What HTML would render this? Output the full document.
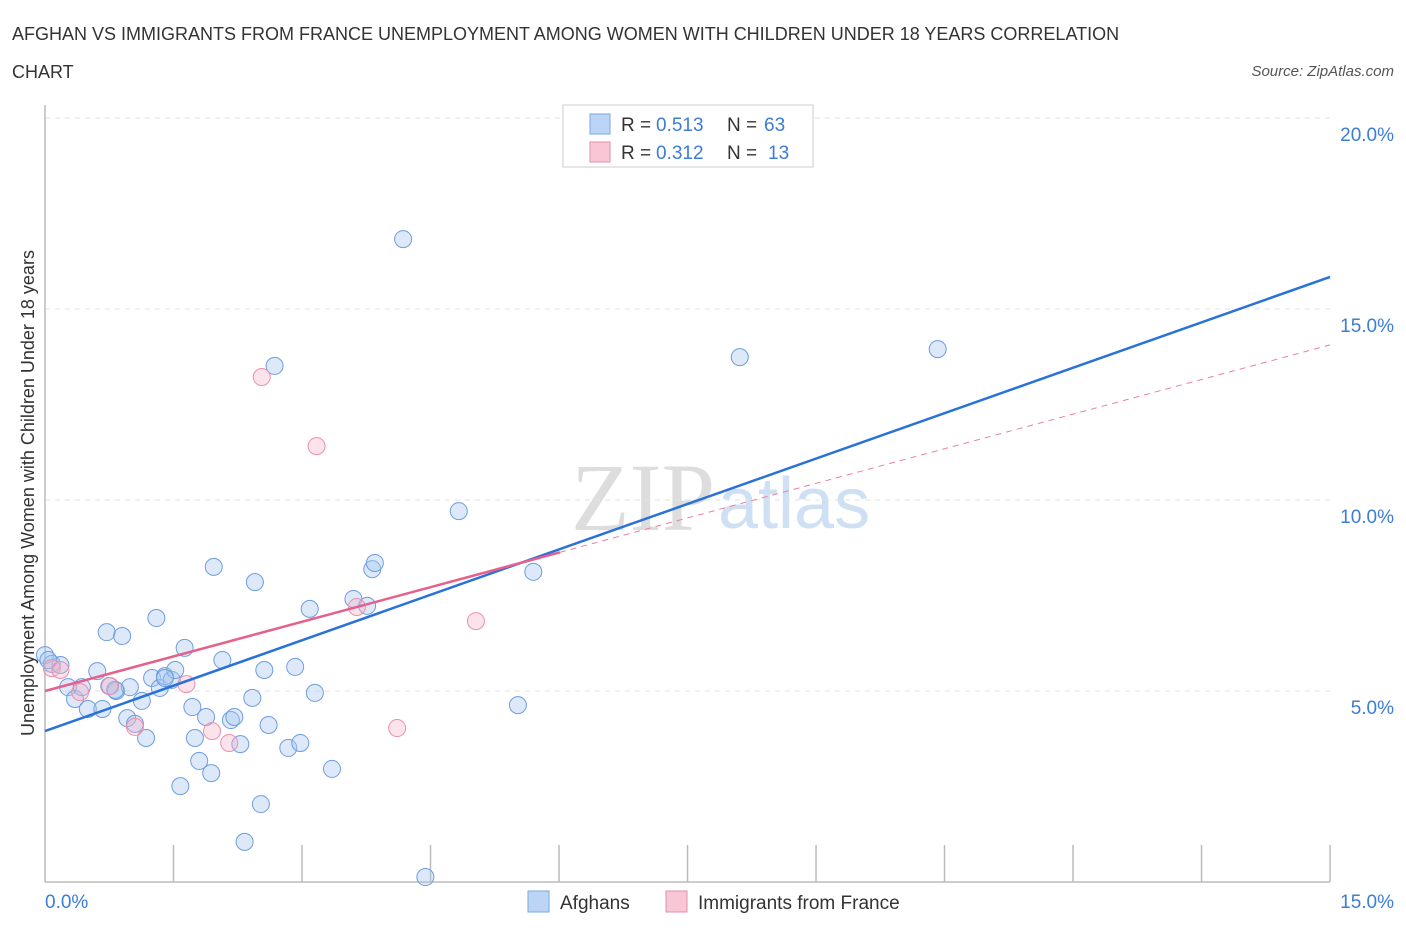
<!DOCTYPE html>
<html><head><meta charset="utf-8"><style>
body{margin:0;background:#fff;font-family:"Liberation Sans",sans-serif}
</style></head><body>
<svg width="1406" height="930" xmlns="http://www.w3.org/2000/svg" font-family="Liberation Sans, sans-serif">
<text x="12" y="40" font-size="18" fill="#333">AFGHAN VS IMMIGRANTS FROM FRANCE UNEMPLOYMENT AMONG WOMEN WITH CHILDREN UNDER 18 YEARS CORRELATION</text>
<text x="12" y="78" font-size="18" fill="#333">CHART</text>
<text x="1394" y="76" font-size="15" fill="#555" font-style="italic" text-anchor="end">Source: ZipAtlas.com</text>
<text x="715" y="530" font-size="96" fill="#ddd" text-anchor="end" font-family="Liberation Serif, serif">ZIP</text>
<text x="718" y="528" font-size="72" fill="#cfe0f5">atlas</text>
<g id="grid"></g><g id="pts"></g><g id="lines"></g>
<text x="34" y="493" font-size="18" fill="#333" text-anchor="middle" transform="rotate(-90 34 493)">Unemployment Among Women with Children Under 18 years</text>
<text x="45" y="908" font-size="19" fill="#3b7dd8">0.0%</text>
<text x="1394" y="908" font-size="19" fill="#3b7dd8" text-anchor="end">15.0%</text>
<g>
<rect x="563" y="105" width="250" height="62" fill="#fff" stroke="#ccc"/>
<rect x="590" y="114" width="20" height="20" fill="#bcd4f5" stroke="#7aa7e0"/>
<text x="621" y="131" font-size="19" fill="#333">R = </text>
<text x="656" y="131" font-size="19" fill="#3b7dd8">0.513</text>
<text x="727" y="131" font-size="19" fill="#333">N = </text>
<text x="764" y="131" font-size="19" fill="#3b7dd8">63</text>
<rect x="590" y="142" width="20" height="20" fill="#f8c6d5" stroke="#e58fab"/>
<text x="621" y="159" font-size="19" fill="#333">R = </text>
<text x="656" y="159" font-size="19" fill="#3b7dd8">0.312</text>
<text x="727" y="159" font-size="19" fill="#333">N = </text>
<text x="768" y="159" font-size="19" fill="#3b7dd8">13</text>
</g>
<g>
<rect x="528" y="891" width="21" height="21" fill="#bcd4f5" stroke="#7aa7e0"/>
<text x="560" y="909" font-size="19" fill="#333">Afghans</text>
<rect x="666" y="891" width="21" height="21" fill="#f8c6d5" stroke="#e58fab"/>
<text x="698" y="909" font-size="19" fill="#333">Immigrants from France</text>
</g>
</svg>
<script>
const yTicks=[5,10,15,20];
const yTickLabels=["5.0%","10.0%","15.0%","20.0%"];
const xTicks=[1.5,3,4.5,6,7.5,9,10.5,12,13.5,15];
const afghanX=[0,0.08,0.27,0.35,0.43,0.50,0.61,0.67,0.72,0.83,0.90,0.96,0.99,1.05,1.13,1.18,1.25,1.30,1.34,1.40,1.48,1.52,1.58,1.63,1.72,1.75,1.80,1.88,1.94,1.97,2.07,2.17,2.21,2.28,2.33,2.42,2.45,2.52,2.56,2.61,2.68,2.84,2.92,2.98,3.09,3.15,3.35,3.60,3.76,3.82,3.85,4.18,4.44,4.83,5.52,5.70,8.11,10.42,0.75,0.18,0.82,0.04,1.40];
const afghanY=[5.94,5.71,5.10,4.79,5.10,4.53,5.52,4.53,6.54,5.00,6.44,4.29,5.10,4.14,4.74,3.77,5.34,6.91,5.08,5.39,5.29,5.55,2.51,6.13,4.58,3.77,3.17,4.32,2.85,8.25,5.81,4.24,4.32,3.61,1.05,4.82,7.85,2.04,5.55,4.11,13.51,3.51,5.63,3.64,7.15,4.95,2.96,7.41,7.23,8.19,8.35,16.83,0.13,9.71,4.63,8.12,13.74,13.95,5.13,5.68,5.03,5.81,5.34];
const franceX=[0.08,0.18,0.41,0.76,1.05,1.65,1.95,2.15,2.53,3.17,3.64,4.11,5.03];
const franceY=[5.60,5.55,4.97,5.13,4.06,5.18,3.95,3.64,13.22,11.41,7.20,4.03,6.83];
const afghanTrend=[3.95,15.84];
const franceTrend=[5.00,14.06];
const franceSolidEnd=6.01;
const NS="http://www.w3.org/2000/svg";
const X=v=>45+v*85.67, Y=v=>882-v*38.2;
function mk(t,a,p){const e=document.createElementNS(NS,t);for(const k in a)e.setAttribute(k,a[k]);p.appendChild(e);return e;}
const g=document.getElementById('grid');
mk('line',{x1:45,y1:Y(20),x2:1330,y2:Y(20),stroke:'#e2e2e2','stroke-dasharray':'5,5'},g);
yTicks.forEach((t,i)=>{
 const l=mk('line',{x1:45,y1:Y(t),x2:1330,y2:Y(t),stroke:'#e2e2e2','stroke-dasharray':'5,5'},g);
 
 
 const tx=mk('text',{x:1394,y:Y(t)+23,'font-size':19,fill:'#3b7dd8','text-anchor':'end'},g);
 tx.textContent=yTickLabels[i];
 
 
});
mk('line',{x1:45,y1:105,x2:45,y2:882,stroke:'#bbb','stroke-width':1.5},g);
mk('line',{x1:45,y1:882,x2:1330,y2:882,stroke:'#bbb','stroke-width':1.5},g);
xTicks.forEach(t=>{
 const l=mk('line',{x1:X(t),y1:845,x2:X(t),y2:882,stroke:'#bbb','stroke-width':1.5},g);
 
 
});
const p=document.getElementById('pts');
afghanX.forEach((x,i)=>{
 const c=mk('circle',{cx:X(x),cy:Y(afghanY[i]),r:8.5,fill:'rgba(170,200,240,0.4)',stroke:'#6d9de0','stroke-width':1},p);
 
 
});
franceX.forEach((x,i)=>{
 const c=mk('circle',{cx:X(x),cy:Y(franceY[i]),r:8.5,fill:'rgba(245,175,198,0.35)',stroke:'#eb90ab','stroke-width':1},p);
 
 
});
const L=document.getElementById('lines');
const fy=x=>franceTrend[0]+(franceTrend[1]-franceTrend[0])*x/15;
const d=mk('line',{x1:X(franceSolidEnd),y1:Y(fy(franceSolidEnd)),x2:X(15),y2:Y(franceTrend[1]),stroke:'#e8819f','stroke-width':1,'stroke-dasharray':'6,5'},L);


const b=mk('line',{x1:X(0),y1:Y(afghanTrend[0]),x2:X(15),y2:Y(afghanTrend[1]),stroke:'#2a72d8','stroke-width':2.5},L);


const f=mk('line',{x1:X(0),y1:Y(franceTrend[0]),x2:X(franceSolidEnd),y2:Y(fy(franceSolidEnd)),stroke:'#e5608a','stroke-width':2.5},L);


</script>
</body></html>
